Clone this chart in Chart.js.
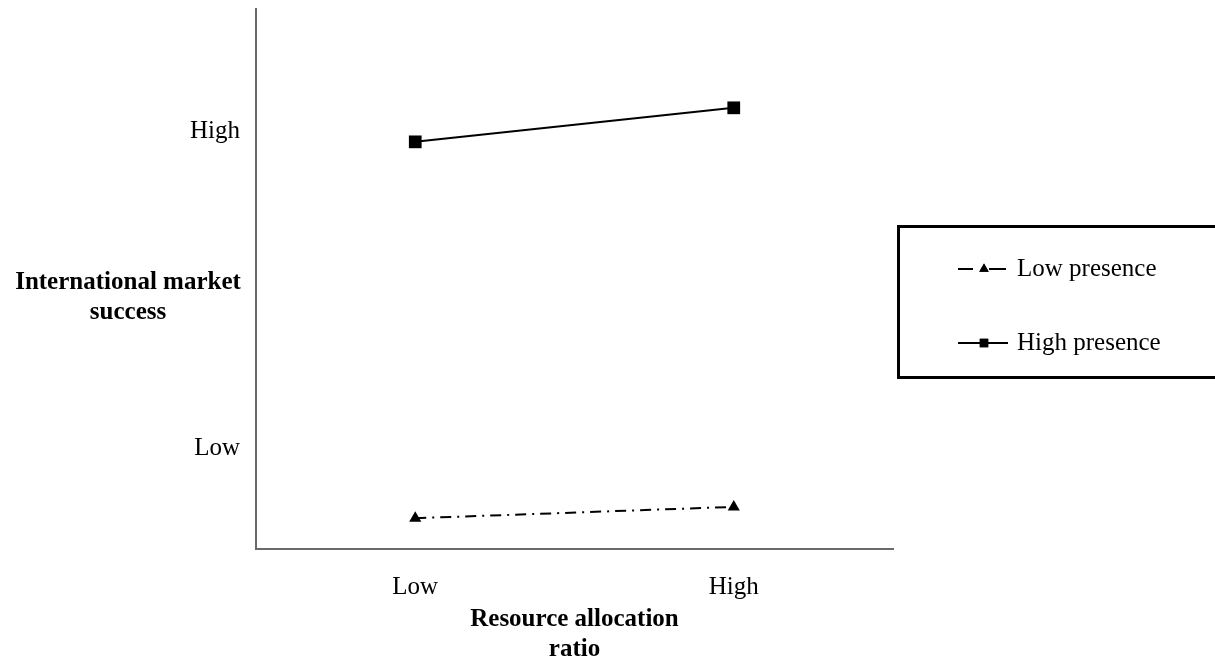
<!DOCTYPE html>
<html>
<head>
<meta charset="utf-8">
<style>
  html, body { margin: 0; padding: 0; background: #fff; }
  #wrap { width: 1215px; height: 657px; }
</style>
<script src="https://cdn.jsdelivr.net/npm/chart.js@4/dist/chart.umd.min.js"></script>
</head>
<body>
<div id="wrap"><canvas id="graficoInteraccion" width="1215" height="657"></canvas></div>
<script>
// categorias del eje X
const categoriasRecursos = ['Low', 'High'];
// valores (escala 0-100)
const valoresPresenciaBaja = [5.7, 7.8];
const valoresPresenciaAlta = [75.4, 81.7];
// marcas del eje Y
const valoresTicksY = [18.7, 77.3];
const etiquetasTicksY = ['Low', 'High'];
const nombresSeries = ['Low presence', 'High presence'];
const tituloEjeY = ['International market', 'success'];
const tituloEjeX = ['Resource allocation', 'ratio'];

const fuenteSerif = '"Liberation Serif", "Times New Roman", serif';

// titulo del eje Y en horizontal (Chart.js lo gira siempre)
const pluginTituloY = {
    id: 'tituloY',
    afterDraw(chart) {
        const ctx = chart.ctx;
        ctx.save();
        ctx.fillStyle = '#000';
        ctx.font = 'bold 25px ' + fuenteSerif;
        ctx.textAlign = 'center';
        ctx.textBaseline = 'middle';
        tituloEjeY.forEach((linea, i) => ctx.fillText(linea, 128, 283 + i * 30));
        ctx.restore();
    }
};

// leyenda con caja, a la derecha
const pluginLeyenda = {
    id: 'leyendaCaja',
    afterDraw(chart) {
        const ctx = chart.ctx;
        ctx.save();
        ctx.strokeStyle = '#000';
        ctx.lineWidth = 3;
        ctx.strokeRect(898.5, 226.5, 330, 151);

        chart.data.datasets.forEach((ds, i) => {
            const y = 269 + i * 74;
            ctx.save();
            ctx.strokeStyle = '#000';
            ctx.lineWidth = 2;
            if (i === 0) {
                ctx.beginPath(); ctx.moveTo(958, y); ctx.lineTo(973, y); ctx.stroke();
                ctx.beginPath(); ctx.moveTo(989, y); ctx.lineTo(1006, y); ctx.stroke();
            } else {
                ctx.beginPath(); ctx.moveTo(958, y); ctx.lineTo(1008, y); ctx.stroke();
            }
            ctx.restore();
            ctx.fillStyle = '#000';
            Chart.helpers.drawPoint(ctx, {
                pointStyle: ds.pointStyle,
                radius: i === 0 ? 5.5 : 6,
                rotation: 0,
                borderWidth: 0
            }, 984, y);
            ctx.fill();
            ctx.fillStyle = '#000';
            ctx.font = '25px ' + fuenteSerif;
            ctx.textAlign = 'left';
            ctx.textBaseline = 'middle';
            ctx.fillText(ds.label, 1017, y);
        });
        ctx.restore();
    }
};

const ctxInteraccion = document.getElementById('graficoInteraccion').getContext('2d');
const graficoInteraccion = new Chart(ctxInteraccion, {
    type: 'line',
    data: {
        labels: categoriasRecursos,
        datasets: [{
            label: nombresSeries[0],
            data: valoresPresenciaBaja,
            borderColor: '#000',
            backgroundColor: '#000',
            borderWidth: 2,
            borderDash: [11, 6, 2, 6],
            pointStyle: 'triangle',
            pointRadius: 7,
            pointBorderWidth: 0,
            fill: false,
            tension: 0
        }, {
            label: nombresSeries[1],
            data: valoresPresenciaAlta,
            borderColor: '#000',
            backgroundColor: '#000',
            borderWidth: 2,
            pointStyle: 'rect',
            pointRadius: 9,
            pointBorderWidth: 0,
            fill: false,
            tension: 0
        }]
    },
    options: {
        responsive: false,
        animation: false,
        layout: {
            // bottom negativo para bajar el titulo del eje X
            padding: { left: 0, right: 322, top: 8, bottom: -8 }
        },
        scales: {
            x: {
                type: 'category',
                offset: true,
                grid: { display: false, drawTicks: false },
                border: { display: true, color: '#6a6a6a', width: 2 },
                ticks: {
                    color: '#000',
                    padding: 23,
                    font: { family: fuenteSerif, size: 25 }
                },
                title: {
                    display: true,
                    text: tituloEjeX,
                    color: '#000',
                    font: { family: fuenteSerif, size: 25, weight: 'bold', lineHeight: 1.2 },
                    padding: { top: 0, bottom: 0 }
                },
                afterFit: function (scale) {
                    scale.height = 116;
                }
            },
            y: {
                min: 0,
                max: 100,
                grid: { display: false, drawTicks: false },
                border: { display: true, color: '#6a6a6a', width: 2 },
                afterBuildTicks: function (scale) {
                    scale.ticks = valoresTicksY.map(v => ({ value: v }));
                },
                ticks: {
                    color: '#000',
                    padding: 16,
                    font: { family: fuenteSerif, size: 25 },
                    callback: function (value, index) {
                        return etiquetasTicksY[index];
                    }
                },
                afterFit: function (scale) {
                    scale.width = 256;
                    scale.paddingTop = 0;
                    scale.paddingBottom = 0;
                }
            }
        },
        plugins: {
            legend: { display: false },
            tooltip: { enabled: false }
        }
    },
    plugins: [pluginTituloY, pluginLeyenda]
});
</script>
</body>
</html>
